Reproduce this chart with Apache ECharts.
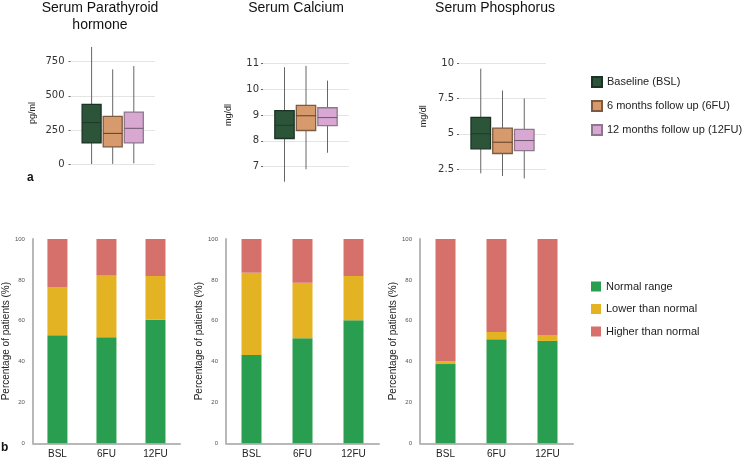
<!DOCTYPE html>
<html>
<head>
<meta charset="utf-8">
<script src="https://cdn.jsdelivr.net/npm/echarts@6/dist/echarts.min.js"></script>
<style>html,body{margin:0;padding:0;background:#fff}#c{width:743px;height:464px}</style>
</head>
<body>
<div id="c"></div>
<script>
// ---------- DATA ----------
const boxGroups = ['Baseline (BSL)', '6 months follow up (6FU)', '12 months follow up (12FU)'];
const panelTitles = ['Serum Parathyroid\nhormone', 'Serum Calcium', 'Serum Phosphorus'];
const panelUnits = ['pg/ml', 'mg/dl', 'mg/dl'];
// [min, q1, median, q3, max]
const pthBSL = [2, 156, 305, 438, 858];
const pth6FU = [3, 127, 226, 350, 694];
const pth12FU = [7, 156, 263, 382, 718];
const caBSL = [6.42, 8.09, 8.6, 9.17, 10.85];
const ca6FU = [6.9, 8.4, 8.97, 9.37, 10.9];
const ca12FU = [7.54, 8.59, 8.9, 9.28, 10.33];
const phBSL = [2.19, 3.93, 5.0, 6.17, 9.62];
const ph6FU = [2.0, 3.6, 4.4, 5.4, 8.07];
const ph12FU = [1.83, 3.81, 4.52, 5.31, 7.5];
// y-axis tick settings [min, max, interval]
const pthTicks = [0, 750, 250];
const caTicks = [7, 11, 1];
const phTicks = [2.5, 10, 2.5];

const barCategories = ['BSL', '6FU', '12FU'];
const barGroups = ['Normal range', 'Lower than normal', 'Higher than normal'];
const pthNormal = [52.9, 51.9, 60.5];
const pthLower = [23.3, 30.2, 21.4];
const pthHigher = [23.8, 17.9, 18.1];
const caNormal = [43.2, 51.4, 60.2];
const caLower = [40.3, 27.2, 21.7];
const caHigher = [16.5, 21.4, 18.1];
const phNormal = [38.8, 50.9, 50.1];
const phLower = [1.2, 3.6, 2.9];
const phHigher = [60.0, 45.5, 47.0];
const pctTicks = [0, 100, 20];

// ---------- STYLE ----------
const boxFill = ['#2b5439', '#d69a6c', '#d8a8d2'];
const boxStroke = ['#1b3324', '#7d5a40', '#8d778c'];
const boxMedian = ['#223a2b', '#5e3e28', '#6e566e'];
const barColors = ['#2a9e50', '#e3b324', '#d5706b'];

const topPanels = [
  {stats: [pthBSL, pth6FU, pth12FU], ticks: pthTicks, left: 70.5, width: 84.4, top: 61.7, height: 102.6, margin: 6, nameGap: 33, titleX: 100},
  {stats: [caBSL, ca6FU, ca12FU], ticks: caTicks, left: 263, width: 86, top: 63.3, height: 103.4, margin: 4, nameGap: 30, titleX: 296},
  {stats: [phBSL, ph6FU, ph12FU], ticks: phTicks, left: 459, width: 87, top: 63.3, height: 105.7, margin: 5, nameGap: 31, titleX: 495}
];
const botPanels = [
  {vals: [pthNormal, pthLower, pthHigher], left: 28, width: 152},
  {vals: [caNormal, caLower, caHigher], left: 226, width: 153},
  {vals: [phNormal, phLower, phHigher], left: 420, width: 153}
];

function boxRender(i) {
  return function (params, api) {
    const x = api.value(0);
    const lo = api.coord([x, api.value(1)]);
    const q1 = api.coord([x, api.value(2)]);
    const md = api.coord([x, api.value(3)]);
    const q3 = api.coord([x, api.value(4)]);
    const hi = api.coord([x, api.value(5)]);
    const w = api.size([0.9, 0])[0];
    const cx = lo[0];
    return {
      type: 'group',
      children: [
        {type: 'line', shape: {x1: cx, y1: hi[1], x2: cx, y2: q3[1]}, style: {stroke: '#666', lineWidth: 1}},
        {type: 'line', shape: {x1: cx, y1: q1[1], x2: cx, y2: lo[1]}, style: {stroke: '#666', lineWidth: 1}},
        {type: 'rect', shape: {x: cx - w / 2, y: q3[1], width: w, height: q1[1] - q3[1]},
          style: {fill: boxFill[i], stroke: boxStroke[i], lineWidth: 1.3}},
        {type: 'line', shape: {x1: cx - w / 2, y1: md[1], x2: cx + w / 2, y2: md[1]},
          style: {stroke: boxMedian[i], lineWidth: 1}}
      ]
    };
  };
}

const grid = [], xAxis = [], yAxis = [], series = [], graphic = [];
const titleFont = 'Liberation Sans, Arial, sans-serif';

topPanels.forEach((p, pi) => {
  grid.push({left: p.left, width: p.width, top: p.top, height: p.height});
  xAxis.push({type: 'value', gridIndex: pi, min: -1, max: 3, show: false});
  yAxis.push({
    type: 'value', gridIndex: pi, min: p.ticks[0], max: p.ticks[1], interval: p.ticks[2],
    axisLine: {show: false, onZero: false},
    axisTick: {show: true, length: 2, lineStyle: {color: '#666'}},
    axisLabel: {fontFamily: 'DejaVu Sans', fontSize: 10, color: '#333', margin: p.margin},
    splitLine: {lineStyle: {color: '#e4e4e4', width: 1}},
    name: panelUnits[pi], nameLocation: 'middle', nameGap: p.nameGap,
    nameTextStyle: {fontFamily: titleFont, fontSize: 9, color: '#222'}
  });
  p.stats.forEach((s, gi) => {
    series.push({
      type: 'custom', name: boxGroups[gi], xAxisIndex: pi, yAxisIndex: pi,
      itemStyle: {color: boxFill[gi], borderColor: boxStroke[gi], borderWidth: 1},
      renderItem: boxRender(gi),
      encode: {x: 0, y: [1, 2, 3, 4, 5]},
      data: [[gi].concat(s)]
    });
  });
  graphic.push({type: 'text', x: p.titleX, y: 0,
    style: {text: panelTitles[pi], fontFamily: titleFont, fontSize: 14, lineHeight: 17,
      fill: '#111', align: 'center', verticalAlign: 'top'}});
});

botPanels.forEach((p, bi) => {
  const gi = bi + 3;
  grid.push({left: p.left, width: p.width, top: 239, height: 204.3});
  xAxis.push({
    type: 'category', gridIndex: gi, data: barCategories,
    axisLine: {lineStyle: {color: '#b8b8b8', width: 2}},
    axisTick: {show: false},
    axisLabel: {fontFamily: titleFont, fontSize: 10, color: '#222', margin: 6}
  });
  yAxis.push({
    type: 'value', gridIndex: gi, min: pctTicks[0], max: pctTicks[1], interval: pctTicks[2],
    axisLine: {show: true, onZero: false, lineStyle: {color: '#b8b8b8', width: 2}},
    axisTick: {show: false},
    splitLine: {show: false},
    axisLabel: {fontFamily: titleFont, fontSize: 6, color: '#555', margin: 8},
    name: 'Percentage of patients (%)', nameLocation: 'middle', nameGap: 19,
    nameTextStyle: {fontFamily: titleFont, fontSize: 10, color: '#222'}
  });
  p.vals.forEach((v, k) => {
    series.push({
      type: 'bar', name: barGroups[k], xAxisIndex: gi, yAxisIndex: gi, stack: 'st' + bi,
      barWidth: 20, itemStyle: {color: barColors[k]}, data: v
    });
  });
});

graphic.push({type: 'text', x: 27, y: 178, style: {text: 'a', fontFamily: titleFont, fontSize: 12, fontWeight: 'bold', fill: '#111', verticalAlign: 'middle'}});
graphic.push({type: 'text', x: 1, y: 448, style: {text: 'b', fontFamily: titleFont, fontSize: 12, fontWeight: 'bold', fill: '#111', verticalAlign: 'middle'}});

const legendText = {fontFamily: titleFont, fontSize: 11, color: '#222'};
const option = {
  animation: false,
  backgroundColor: '#fff',
  grid, xAxis, yAxis, series, graphic,
  legend: [
    {data: boxGroups, orient: 'vertical', left: 591, top: 76, padding: 0, itemWidth: 10, itemHeight: 10, itemGap: 12,
      icon: 'rect', textStyle: legendText, selectedMode: false},
    {data: barGroups, orient: 'vertical', left: 591, top: 281, padding: 0, itemWidth: 10, itemHeight: 10, itemGap: 11.5,
      icon: 'rect', textStyle: legendText, selectedMode: false}
  ]
};
const chart = echarts.init(document.getElementById('c'), null, {renderer: 'canvas'});
chart.setOption(option);
</script>
</body>
</html>
